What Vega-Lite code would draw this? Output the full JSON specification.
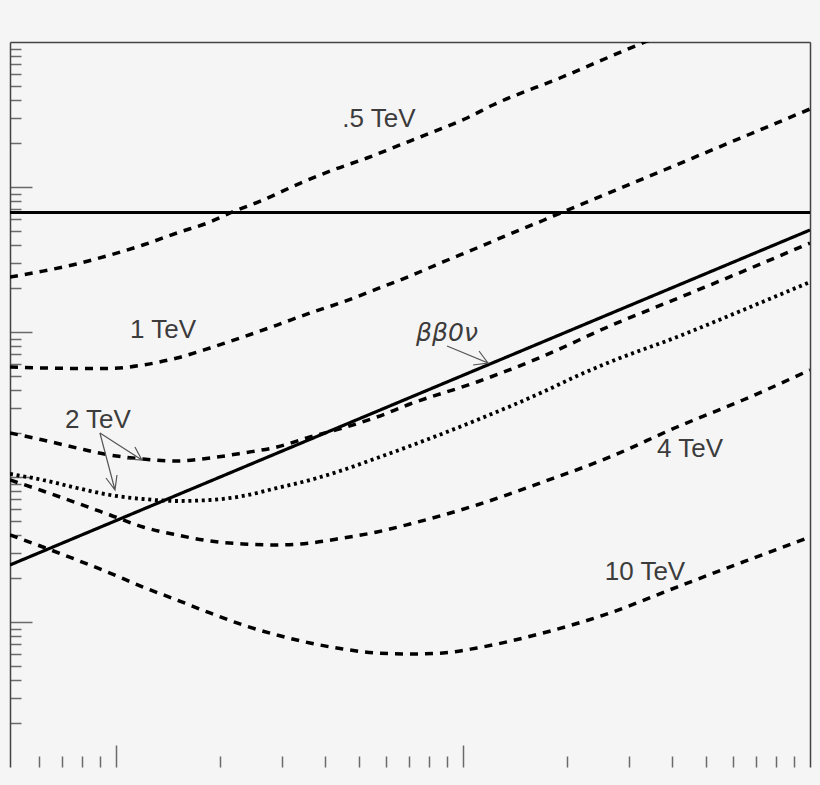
{
  "$schema": "https://vega.github.io/schema/vega-lite/v6.json",
  "width": 800,
  "height": 725,
  "autosize": "none",
  "padding": {"left": 10, "top": 42, "right": 10, "bottom": 18},
  "background": "#f5f5f5",
  "config": {
    "view": {"stroke": null},
    "axis": {"grid": false, "labels": false, "title": null}
  },
  "datasets": {
    "curves": [
      {"s": "0.5", "style": "dashed", "x": 0.495, "y": 2395},
      {"s": "0.5", "style": "dashed", "x": 0.616, "y": 2630},
      {"s": "0.5", "style": "dashed", "x": 0.772, "y": 2950},
      {"s": "0.5", "style": "dashed", "x": 0.961, "y": 3396},
      {"s": "0.5", "style": "dashed", "x": 1.196, "y": 3981},
      {"s": "0.5", "style": "dashed", "x": 1.499, "y": 4818},
      {"s": "0.5", "style": "dashed", "x": 1.866, "y": 5736},
      {"s": "0.5", "style": "dashed", "x": 2.131, "y": 6618},
      {"s": "0.5", "style": "dashed", "x": 2.652, "y": 8135},
      {"s": "0.5", "style": "dashed", "x": 3.391, "y": 10600},
      {"s": "0.5", "style": "dashed", "x": 4.221, "y": 13099},
      {"s": "0.5", "style": "dashed", "x": 5.288, "y": 15849},
      {"s": "0.5", "style": "dashed", "x": 6.584, "y": 19486},
      {"s": "0.5", "style": "dashed", "x": 8.193, "y": 23950},
      {"s": "0.5", "style": "dashed", "x": 10.27, "y": 29916},
      {"s": "0.5", "style": "dashed", "x": 12.2, "y": 36770},
      {"s": "0.5", "style": "dashed", "x": 19.03, "y": 56460},
      {"s": "0.5", "style": "dashed", "x": 33.45, "y": 100000},
      {"s": "0.5", "style": "dashed", "x": 36.96, "y": 110000},

      {"s": "1", "style": "dashed", "x": 0.495, "y": 573.6},
      {"s": "1", "style": "dashed", "x": 0.616, "y": 564.6},
      {"s": "1", "style": "dashed", "x": 0.772, "y": 561},
      {"s": "1", "style": "dashed", "x": 0.961, "y": 561},
      {"s": "1", "style": "dashed", "x": 1.196, "y": 592.2},
      {"s": "1", "style": "dashed", "x": 1.499, "y": 661.8},
      {"s": "1", "style": "dashed", "x": 1.866, "y": 775.6},
      {"s": "1", "style": "dashed", "x": 2.323, "y": 923.7},
      {"s": "1", "style": "dashed", "x": 2.911, "y": 1117},
      {"s": "1", "style": "dashed", "x": 3.623, "y": 1352},
      {"s": "1", "style": "dashed", "x": 4.51, "y": 1610},
      {"s": "1", "style": "dashed", "x": 5.651, "y": 1980},
      {"s": "1", "style": "dashed", "x": 7.035, "y": 2433},
      {"s": "1", "style": "dashed", "x": 8.758, "y": 3040},
      {"s": "1", "style": "dashed", "x": 10.97, "y": 3796},
      {"s": "1", "style": "dashed", "x": 13.66, "y": 4742},
      {"s": "1", "style": "dashed", "x": 17.0, "y": 5875},
      {"s": "1", "style": "dashed", "x": 19.42, "y": 6724},
      {"s": "1", "style": "dashed", "x": 24.82, "y": 8573},
      {"s": "1", "style": "dashed", "x": 48.19, "y": 16620},
      {"s": "1", "style": "dashed", "x": 100, "y": 34510},

      {"s": "2", "style": "dashed", "x": 0.495, "y": 201.1},
      {"s": "2", "style": "dashed", "x": 0.616, "y": 179.9},
      {"s": "2", "style": "dashed", "x": 0.772, "y": 158.5},
      {"s": "2", "style": "dashed", "x": 0.961, "y": 141.8},
      {"s": "2", "style": "dashed", "x": 1.196, "y": 133.1},
      {"s": "2", "style": "dashed", "x": 1.499, "y": 128.9},
      {"s": "2", "style": "dashed", "x": 1.866, "y": 135.2},
      {"s": "2", "style": "dashed", "x": 2.323, "y": 146.4},
      {"s": "2", "style": "dashed", "x": 2.911, "y": 161.0},
      {"s": "2", "style": "dashed", "x": 3.623, "y": 188.7},
      {"s": "2", "style": "dashed", "x": 4.51, "y": 217.7},
      {"s": "2", "style": "dashed", "x": 5.651, "y": 259.3},
      {"s": "2", "style": "dashed", "x": 7.035, "y": 318.7},
      {"s": "2", "style": "dashed", "x": 10.97, "y": 452.1},
      {"s": "2", "style": "dashed", "x": 17.0, "y": 680},
      {"s": "2", "style": "dashed", "x": 26.52, "y": 1100},
      {"s": "2", "style": "dashed", "x": 41.38, "y": 1700},
      {"s": "2", "style": "dashed", "x": 64.13, "y": 2620},
      {"s": "2", "style": "dashed", "x": 100, "y": 4110},

      {"s": "2d", "style": "dotted", "x": 0.495, "y": 104.9},
      {"s": "2d", "style": "dotted", "x": 0.616, "y": 95.35},
      {"s": "2d", "style": "dotted", "x": 0.772, "y": 83.99},
      {"s": "2d", "style": "dotted", "x": 0.961, "y": 75.14},
      {"s": "2d", "style": "dotted", "x": 1.196, "y": 70.51},
      {"s": "2d", "style": "dotted", "x": 1.499, "y": 68.31},
      {"s": "2d", "style": "dotted", "x": 1.866, "y": 69.4},
      {"s": "2d", "style": "dotted", "x": 2.323, "y": 73.96},
      {"s": "2d", "style": "dotted", "x": 2.911, "y": 83.99},
      {"s": "2d", "style": "dotted", "x": 3.623, "y": 95.35},
      {"s": "2d", "style": "dotted", "x": 4.51, "y": 111.7},
      {"s": "2d", "style": "dotted", "x": 5.651, "y": 135.2},
      {"s": "2d", "style": "dotted", "x": 7.035, "y": 163.6},
      {"s": "2d", "style": "dotted", "x": 10.97, "y": 247.3},
      {"s": "2d", "style": "dotted", "x": 17.0, "y": 385.7},
      {"s": "2d", "style": "dotted", "x": 21.31, "y": 497.3},
      {"s": "2d", "style": "dotted", "x": 26.52, "y": 621.1},
      {"s": "2d", "style": "dotted", "x": 41.38, "y": 923.7},
      {"s": "2d", "style": "dotted", "x": 64.13, "y": 1418},
      {"s": "2d", "style": "dotted", "x": 100, "y": 2212},

      {"s": "4", "style": "dashed", "x": 0.495, "y": 95.35},
      {"s": "4", "style": "dashed", "x": 0.616, "y": 80.08},
      {"s": "4", "style": "dashed", "x": 0.772, "y": 66.18},
      {"s": "4", "style": "dashed", "x": 0.961, "y": 54.7},
      {"s": "4", "style": "dashed", "x": 1.196, "y": 45.21},
      {"s": "4", "style": "dashed", "x": 1.499, "y": 39.81},
      {"s": "4", "style": "dashed", "x": 1.866, "y": 36.19},
      {"s": "4", "style": "dashed", "x": 2.323, "y": 34.51},
      {"s": "4", "style": "dashed", "x": 2.911, "y": 33.96},
      {"s": "4", "style": "dashed", "x": 3.623, "y": 35.06},
      {"s": "4", "style": "dashed", "x": 4.51, "y": 37.96},
      {"s": "4", "style": "dashed", "x": 5.651, "y": 41.75},
      {"s": "4", "style": "dashed", "x": 7.035, "y": 47.42},
      {"s": "4", "style": "dashed", "x": 10.97, "y": 64.13},
      {"s": "4", "style": "dashed", "x": 17.0, "y": 92.37},
      {"s": "4", "style": "dashed", "x": 26.52, "y": 137.4},
      {"s": "4", "style": "dashed", "x": 41.38, "y": 221.2},
      {"s": "4", "style": "dashed", "x": 64.13, "y": 339.6},
      {"s": "4", "style": "dashed", "x": 100, "y": 547.0},

      {"s": "10", "style": "dashed", "x": 0.495, "y": 39.81},
      {"s": "10", "style": "dashed", "x": 0.616, "y": 32.9},
      {"s": "10", "style": "dashed", "x": 0.772, "y": 26.77},
      {"s": "10", "style": "dashed", "x": 0.961, "y": 21.77},
      {"s": "10", "style": "dashed", "x": 1.196, "y": 17.43},
      {"s": "10", "style": "dashed", "x": 1.499, "y": 14.18},
      {"s": "10", "style": "dashed", "x": 1.866, "y": 11.54},
      {"s": "10", "style": "dashed", "x": 2.323, "y": 9.535},
      {"s": "10", "style": "dashed", "x": 2.911, "y": 8.135},
      {"s": "10", "style": "dashed", "x": 3.623, "y": 7.165},
      {"s": "10", "style": "dashed", "x": 4.51, "y": 6.513},
      {"s": "10", "style": "dashed", "x": 5.651, "y": 6.112},
      {"s": "10", "style": "dashed", "x": 7.035, "y": 6.016},
      {"s": "10", "style": "dashed", "x": 8.758, "y": 6.112},
      {"s": "10", "style": "dashed", "x": 10.97, "y": 6.618},
      {"s": "10", "style": "dashed", "x": 17.0, "y": 8.399},
      {"s": "10", "style": "dashed", "x": 26.52, "y": 11.54},
      {"s": "10", "style": "dashed", "x": 41.38, "y": 17.43},
      {"s": "10", "style": "dashed", "x": 64.13, "y": 25.93},
      {"s": "10", "style": "dashed", "x": 100, "y": 38.57},

      {"s": "bb", "style": "solid", "x": 0.495, "y": 24.73},
      {"s": "bb", "style": "solid", "x": 100, "y": 5051},

      {"s": "limit", "style": "solid", "x": 0.495, "y": 6671},
      {"s": "limit", "style": "solid", "x": 100, "y": 6671}
    ],
    "arrows": [
      {"a": "1", "i": 1, "x": 0.899, "y": 201.1},
      {"a": "1", "i": 2, "x": 1.188, "y": 131.0},
      {"a": "1", "i": 3, "x": 1.076, "y": 133.1},
      {"a": "1", "i": 4, "x": 1.188, "y": 131.0},
      {"a": "1", "i": 5, "x": 1.134, "y": 161.0},
      {"a": "2", "i": 1, "x": 0.899, "y": 201.1},
      {"a": "2", "i": 2, "x": 0.9934, "y": 81.35},
      {"a": "2", "i": 3, "x": 0.9359, "y": 98.42},
      {"a": "2", "i": 4, "x": 0.9934, "y": 81.35},
      {"a": "2", "i": 5, "x": 1.0067, "y": 103.2},
      {"a": "3", "i": 1, "x": 8.994, "y": 800.8},
      {"a": "3", "i": 2, "x": 11.8, "y": 611.2},
      {"a": "3", "i": 3, "x": 10.69, "y": 592.2},
      {"a": "3", "i": 4, "x": 11.8, "y": 611.2},
      {"a": "3", "i": 5, "x": 11.12, "y": 739.6}
    ],
    "labels": [
      {"t": ".5 TeV", "it": 0, "x": 5.727, "y": 25930},
      {"t": "1 TeV", "it": 0, "x": 1.366, "y": 909},
      {"t": "2 TeV", "it": 0, "x": 0.887, "y": 217.7},
      {"t": "4 TeV", "it": 0, "x": 45.1, "y": 137.4},
      {"t": "10 TeV", "it": 0, "x": 33.45, "y": 19.49},
      {"t": "ββ0ν", "it": 1, "x": 8.994, "y": 866.9}
    ]
  },
  "layer": [
    {
      "data": {"name": "curves"},
      "mark": {"type": "line", "clip": true, "color": "black", "interpolate": "monotone"},
      "encoding": {
        "x": {
          "field": "x", "type": "quantitative",
          "scale": {"type": "log", "domain": [0.495, 100]},
          "axis": {
            "orient": "bottom", "domain": false, "labels": false,
            "values": [0.6, 0.7, 0.8, 0.9, 1, 2, 3, 4, 5, 6, 7, 8, 9, 10, 20, 30, 40, 50, 60, 70, 80, 90],
            "tickSize": {"condition": {"test": "datum.value == 1 || datum.value == 10", "value": -22}, "value": -11},
            "tickColor": "#6a6a6a", "tickWidth": 1.5
          }
        },
        "y": {
          "field": "y", "type": "quantitative",
          "scale": {"type": "log", "domain": [1, 100000]},
          "axis": {
            "orient": "left", "domain": true, "domainColor": "#444", "domainWidth": 1.5, "labels": false,
            "values": [2, 3, 4, 5, 6, 7, 8, 9, 10, 20, 30, 40, 50, 60, 70, 80, 90, 100, 200, 300, 400, 500, 600, 700, 800, 900, 1000, 2000, 3000, 4000, 5000, 6000, 7000, 8000, 9000, 10000, 20000, 30000, 40000, 50000, 60000, 70000, 80000, 90000],
            "tickSize": {"condition": {"test": "datum.value == 10 || datum.value == 100 || datum.value == 1000 || datum.value == 10000", "value": -22}, "value": -11},
            "tickColor": "#6a6a6a", "tickWidth": 1.5
          }
        },
        "detail": {"field": "s"},
        "strokeDash": {
          "field": "style", "type": "nominal",
          "scale": {"domain": ["solid", "dashed", "dotted"], "range": [[1, 0], [8, 7], [3, 3.7]]},
          "legend": null
        },
        "strokeWidth": {
          "field": "style", "type": "nominal",
          "scale": {"domain": ["solid", "dashed", "dotted"], "range": [3.2, 3.8, 3.3]},
          "legend": null
        }
      }
    },
    {
      "data": {"name": "arrows"},
      "mark": {"type": "line", "color": "#555", "strokeWidth": 1.2},
      "encoding": {
        "x": {"field": "x", "type": "quantitative", "scale": {"type": "log", "domain": [0.495, 100]}, "axis": null},
        "y": {"field": "y", "type": "quantitative", "scale": {"type": "log", "domain": [1, 100000]}, "axis": null},
        "detail": {"field": "a"},
        "order": {"field": "i"}
      }
    },
    {
      "data": {"name": "labels"},
      "transform": [{"filter": "datum.it == 0"}],
      "mark": {"type": "text", "font": "Liberation Sans", "fontSize": 26, "color": "#3c3c3c", "align": "center", "baseline": "alphabetic"},
      "encoding": {
        "x": {"field": "x", "type": "quantitative", "scale": {"type": "log", "domain": [0.495, 100]},
          "axis": {"orient": "top", "domain": true, "domainColor": "#444", "domainWidth": 1.5, "ticks": false, "labels": false}},
        "y": {"field": "y", "type": "quantitative", "scale": {"type": "log", "domain": [1, 100000]},
          "axis": {"orient": "right", "domain": true, "domainColor": "#444", "domainWidth": 1.5, "ticks": false, "labels": false}},
        "text": {"field": "t"}
      }
    },
    {
      "data": {"name": "labels"},
      "transform": [{"filter": "datum.it == 1"}],
      "mark": {"type": "text", "font": "DejaVu Sans", "fontStyle": "italic", "fontSize": 25, "color": "#3c3c3c", "align": "center", "baseline": "alphabetic"},
      "encoding": {
        "x": {"field": "x", "type": "quantitative", "scale": {"type": "log", "domain": [0.495, 100]}, "axis": null},
        "y": {"field": "y", "type": "quantitative", "scale": {"type": "log", "domain": [1, 100000]}, "axis": null},
        "text": {"field": "t"}
      }
    }
  ],
  "resolve": {"axis": {"x": "independent", "y": "independent"}}
}
